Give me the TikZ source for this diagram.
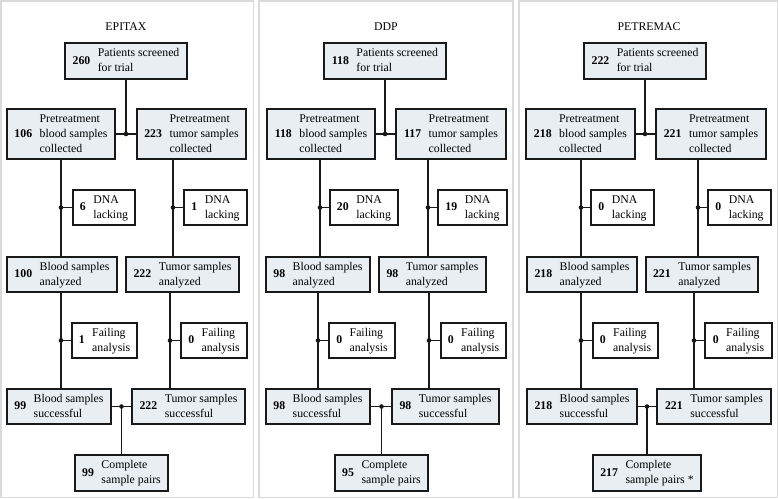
\documentclass[tikz,border=0pt]{standalone}
\usepackage{fontspec}
\setmainfont{Liberation Serif}
\definecolor{boxfill}{RGB}{232,238,242}
\definecolor{panelgray}{RGB}{218,218,218}
\definecolor{ink}{RGB}{25,25,25}
\newcommand\bx[8]{%
  \node[#1, minimum width={(#5-#3)*1pt}, minimum height={(#6-#4)*1pt}]
    (#2) at ({(#3+#5)/2},{(#4+#6)/2})
    {\textbf{#7}\hspace{7.5pt}\begin{tabular}{@{}l@{}}#8\end{tabular}};}
\newcommand\seg[4]{%
  \coordinate (colx) at (#4,0);
  \draw[conn] (#1.south -| colx) -- (#2.north -| colx);
  \coordinate (jn) at (colx |- #3.west);
  \draw[conn] (jn) -- (#3.west);
  \fill[ink] (jn) circle (2.3pt);}
\newcommand\pair[5]{%
  \draw[conn] (#1.east) -- (#2.west);
  \coordinate (jp) at (#3.#4 |- #1.east);
  \draw[conn] (#3.#4) -- (jp);
  \fill[ink] (jp) circle (2.3pt);}
\begin{document}
\begin{tikzpicture}[x=1pt,y=-1pt,
  every node/.style={font=\fontsize{11.8}{15}\selectfont},
  panel/.style={draw=panelgray, line width=1.5pt},
  fb/.style={draw=ink, line width=1.3pt, fill=boxfill, inner sep=0pt},
  wb/.style={draw=ink, line width=1.3pt, fill=white, inner sep=0pt},
  conn/.style={draw=ink, line width=1.3pt},
  ttl/.style={inner sep=0pt, anchor=base}]
\useasboundingbox (0,0) rectangle (778,498);
\draw[panel] (0.75,0.75) rectangle (253.5,497.25);
\draw[panel] (259,0.75) rectangle (513,497.25);
\draw[panel] (519,0.75) rectangle (777.25,497.25);
% ---------- Panel 1: EPITAX
\node[ttl] (t1) at (126,30.5) {EPITAX};
\bx{fb}{p1top}{65}{43}{187}{79}{260}{Patients screened\\for trial}
\bx{fb}{p1bc}{7}{109}{115}{159}{106}{Pretreatment\\blood samples\\collected}
\bx{fb}{p1tc}{137}{109}{246}{159}{223}{Pretreatment\\tumor samples\\collected}
\bx{wb}{p1bd}{73}{190}{135}{225}{6}{DNA\\lacking}
\bx{wb}{p1td}{184}{190}{247}{225}{1}{DNA\\lacking}
\bx{fb}{p1ba}{7}{257}{117}{292}{100}{Blood samples\\analyzed}
\bx{fb}{p1ta}{126}{257}{239}{292}{222}{Tumor samples\\analyzed}
\bx{wb}{p1bf}{72}{323}{137}{358}{1}{Failing\\analysis}
\bx{wb}{p1tf}{181}{323}{247}{358}{0}{Failing\\analysis}
\bx{fb}{p1bs}{7}{389}{111}{424}{99}{Blood samples\\successful}
\bx{fb}{p1ts}{132}{389}{245}{424}{222}{Tumor samples\\successful}
\bx{fb}{p1cp}{75}{455}{168}{491}{99}{Complete\\sample pairs}
\pair{p1bc}{p1tc}{p1top}{south}{}
\seg{p1bc}{p1ba}{p1bd}{61}
\seg{p1tc}{p1ta}{p1td}{173}
\seg{p1ba}{p1bs}{p1bf}{61}
\seg{p1ta}{p1ts}{p1tf}{170}
\pair{p1bs}{p1ts}{p1cp}{north}{}
% ---------- Panel 2: DDP
\node[ttl] (t2) at (386,30.5) {DDP};
\bx{fb}{p2top}{324}{43}{446}{79}{118}{Patients screened\\for trial}
\bx{fb}{p2bc}{267}{109}{375}{159}{118}{Pretreatment\\blood samples\\collected}
\bx{fb}{p2tc}{396}{109}{506}{159}{117}{Pretreatment\\tumor samples\\collected}
\bx{wb}{p2bd}{330}{190}{398}{225}{20}{DNA\\lacking}
\bx{wb}{p2td}{438}{190}{507}{225}{19}{DNA\\lacking}
\bx{fb}{p2ba}{266}{257}{370}{292}{98}{Blood samples\\analyzed}
\bx{fb}{p2ta}{379}{257}{486}{292}{98}{Tumor samples\\analyzed}
\bx{wb}{p2bf}{329}{323}{395}{358}{0}{Failing\\analysis}
\bx{wb}{p2tf}{441}{323}{506}{358}{0}{Failing\\analysis}
\bx{fb}{p2bs}{266}{389}{370}{424}{98}{Blood samples\\successful}
\bx{fb}{p2ts}{392}{389}{499}{424}{98}{Tumor samples\\successful}
\bx{fb}{p2cp}{335}{455}{428}{491}{95}{Complete\\sample pairs}
\pair{p2bc}{p2tc}{p2top}{south}{}
\seg{p2bc}{p2ba}{p2bd}{320}
\seg{p2tc}{p2ta}{p2td}{428}
\seg{p2ba}{p2bs}{p2bf}{318}
\seg{p2ta}{p2ts}{p2tf}{429}
\pair{p2bs}{p2ts}{p2cp}{north}{}
% ---------- Panel 3: PETREMAC
\node[ttl] (t3) at (649,30.5) {PETREMAC};
\bx{fb}{p3top}{584}{43}{706}{79}{222}{Patients screened\\for trial}
\bx{fb}{p3bc}{526}{109}{635}{159}{218}{Pretreatment\\blood samples\\collected}
\bx{fb}{p3tc}{656}{109}{766}{159}{221}{Pretreatment\\tumor samples\\collected}
\bx{wb}{p3bd}{591}{190}{654}{225}{0}{DNA\\lacking}
\bx{wb}{p3td}{708}{190}{771}{225}{0}{DNA\\lacking}
\bx{fb}{p3ba}{527}{257}{637}{292}{218}{Blood samples\\analyzed}
\bx{fb}{p3ta}{646}{257}{758}{292}{221}{Tumor samples\\analyzed}
\bx{wb}{p3bf}{593}{323}{658}{358}{0}{Failing\\analysis}
\bx{wb}{p3tf}{705}{323}{772}{358}{0}{Failing\\analysis}
\bx{fb}{p3bs}{527}{389}{637}{424}{218}{Blood samples\\successful}
\bx{fb}{p3ts}{657}{389}{771}{424}{221}{Tumor samples\\successful}
\bx{fb}{p3cp}{593}{455}{701}{491}{217}{Complete\\sample pairs *}
\pair{p3bc}{p3tc}{p3top}{south}{}
\seg{p3bc}{p3ba}{p3bd}{581}
\seg{p3tc}{p3ta}{p3td}{698}
\seg{p3ba}{p3bs}{p3bf}{581}
\seg{p3ta}{p3ts}{p3tf}{694}
\pair{p3bs}{p3ts}{p3cp}{north}{}
\end{tikzpicture}
\end{document}
